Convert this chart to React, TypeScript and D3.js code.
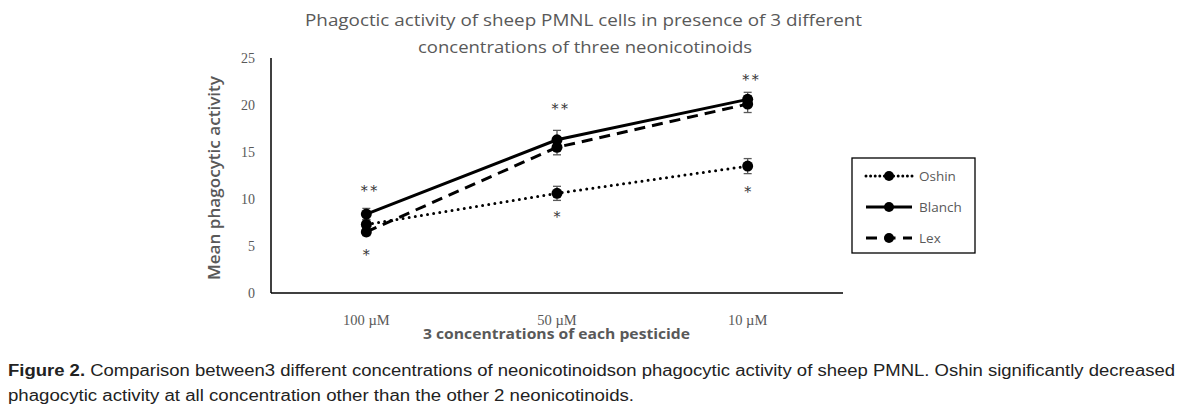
import React from 'react';
import * as d3 from 'd3';

// concentrações e séries
const concentrations = ['100 µM', '50 µM', '10 µM'];
const yTicks = [0, 5, 10, 15, 20, 25];

const oshin = [7.3, 10.6, 13.5];
const oshinErr = [0.5, 0.75, 0.8];
const blanch = [8.4, 16.3, 20.6];
const blanchErr = [0.6, 1.0, 0.75];
const lex = [6.5, 15.5, 20.1];
const lexErr = [0.4, 0.8, 0.9];

// asteriscos de significância (posição em unidades do eixo y)
const starsTop = ['**', '**', '**'];
const starsTopY = [10.8, 19.6, 22.7];
const starsBottom = ['*', '*', '*'];
const starsBottomY = [4.4, 8.5, 11.1];

const series = [
  { name: 'Oshin', values: oshin, err: oshinErr, dash: '0 6.2' },
  { name: 'Blanch', values: blanch, err: blanchErr, dash: null },
  { name: 'Lex', values: lex, err: lexErr, dash: '11 7' },
];

const grey = '#595959';

const App = () => {
  const x = d3.scaleBand().domain(concentrations).range([271, 843]);
  const cx = (c: string) => (x(c) as number) + x.bandwidth() / 2;
  const y = d3.scaleLinear().domain([0, 25]).range([293, 58]);

  const line = d3.line<number>()
    .x((d, i) => cx(concentrations[i]))
    .y(d => y(d));

  const legendX = 852;
  const legendY = 158;

  return (
    <svg width={1180} height={411} style={{ display: 'block', position: 'absolute', left: 0, top: 0 }}>
      <rect width={1180} height={411} fill="#fff" />

      {/* título (a imagem original está esticada na horizontal) */}
      <g fontFamily="'Open Sans', sans-serif" fontSize={16} fill={grey}>
        <text x={305} y={26} textLength={557} lengthAdjust="spacingAndGlyphs">Phagoctic activity of sheep PMNL cells in presence of 3 different</text>
        <text x={418} y={53} textLength={334} lengthAdjust="spacingAndGlyphs">concentrations of three neonicotinoids</text>
      </g>

      {/* eixos */}
      <line x1={x.range()[0]} x2={x.range()[0]} y1={y(25)} y2={y(0)} stroke="#000" strokeWidth={1.5} />
      <line x1={x.range()[0]} x2={x.range()[1]} y1={y(0)} y2={y(0)} stroke="#000" strokeWidth={1.5} />

      <g fontFamily="'Liberation Serif', serif" fontSize={14} fill={grey}>
        {yTicks.map(t => (
          <text key={t} x={255} y={y(t)} dy="0.35em" textAnchor="end">{t}</text>
        ))}
        {concentrations.map(c => (
          <text key={c} x={cx(c)} y={325} textAnchor="middle" fontSize={14.5}>{c}</text>
        ))}
      </g>

      <text
        transform={`translate(220,280) rotate(-90)`}
        fontFamily="'Open Sans', sans-serif"
        fontWeight={600}
        fontSize={15.5}
        fill={grey}
        textLength={204}
        lengthAdjust="spacingAndGlyphs"
      >Mean phagocytic activity</text>
      <text
        x={423}
        y={339}
        fontFamily="'Open Sans', sans-serif"
        fontWeight={700}
        fontSize={14.5}
        fill={grey}
        textLength={267}
        lengthAdjust="spacingAndGlyphs"
      >3 concentrations of each pesticide</text>

      {/* barras de erro */}
      {series.map(s => (
        <g key={s.name + '-err'} stroke={grey} strokeWidth={1.3}>
          {s.values.map((v, i) => {
            const px = cx(concentrations[i]);
            const e = s.err[i];
            return (
              <g key={i}>
                <line x1={px} x2={px} y1={y(v + e)} y2={y(v - e)} />
                <line x1={px - 4} x2={px + 4} y1={y(v + e)} y2={y(v + e)} />
                <line x1={px - 4} x2={px + 4} y1={y(v - e)} y2={y(v - e)} />
              </g>
            );
          })}
        </g>
      ))}

      {/* linhas e marcadores */}
      {series.map(s => (
        <g key={s.name}>
          <path
            d={line(s.values) as string}
            fill="none"
            stroke="#000"
            strokeWidth={3}
            strokeLinecap={s.dash === '0 6.2' ? 'round' : 'butt'}
            strokeDasharray={s.dash ?? undefined}
          />
          {s.values.map((v, i) => (
            <circle key={i} cx={cx(concentrations[i])} cy={y(v)} r={5.5} fill="#000" />
          ))}
        </g>
      ))}

      {/* asteriscos */}
      <g fontFamily="'DejaVu Serif', serif" fontSize={14} fill="#333" textAnchor="middle">
        {concentrations.map((c, i) => (
          <g key={c}>
            <text x={cx(c) + 4} y={y(starsTopY[i])} dy="0.35em" letterSpacing={2.5}>{starsTop[i]}</text>
            <text x={cx(c)} y={y(starsBottomY[i])} dy="0.6em">{starsBottom[i]}</text>
          </g>
        ))}
      </g>

      {/* legenda */}
      <rect x={legendX} y={legendY} width={123} height={95} fill="#fff" stroke="#000" strokeWidth={1.3} />
      {series.map((s, i) => {
        const ly = legendY + 18 + i * 31;
        return (
          <g key={s.name + '-leg'}>
            <line
              x1={866}
              x2={912}
              y1={ly}
              y2={ly}
              stroke="#000"
              strokeWidth={3}
              strokeLinecap={s.dash === '0 6.2' ? 'round' : 'butt'}
              strokeDasharray={s.dash === '0 6.2' ? '0 4.6' : s.dash === '11 7' ? '11 7.5' : undefined}
            />
            <circle cx={889} cy={ly} r={5} fill="#000" />
            <text x={919} y={ly} dy="0.35em" fontFamily="'Open Sans', sans-serif" fontSize={13.5} fill={grey}>{s.name}</text>
          </g>
        );
      })}

      {/* legenda da figura */}
      <g fontFamily="'Liberation Sans', Arial, sans-serif" fontSize={16} fill="#222">
        <text x={8} y={376} textLength={1167} lengthAdjust="spacingAndGlyphs">
          <tspan fontWeight="bold">Figure 2.</tspan> Comparison between3 different concentrations of neonicotinoidson phagocytic activity of sheep PMNL. Oshin significantly decreased
        </text>
        <text x={8} y={401} textLength={626} lengthAdjust="spacingAndGlyphs">phagocytic activity at all concentration other than the other 2 neonicotinoids.</text>
      </g>
    </svg>
  );
};

export default App;
